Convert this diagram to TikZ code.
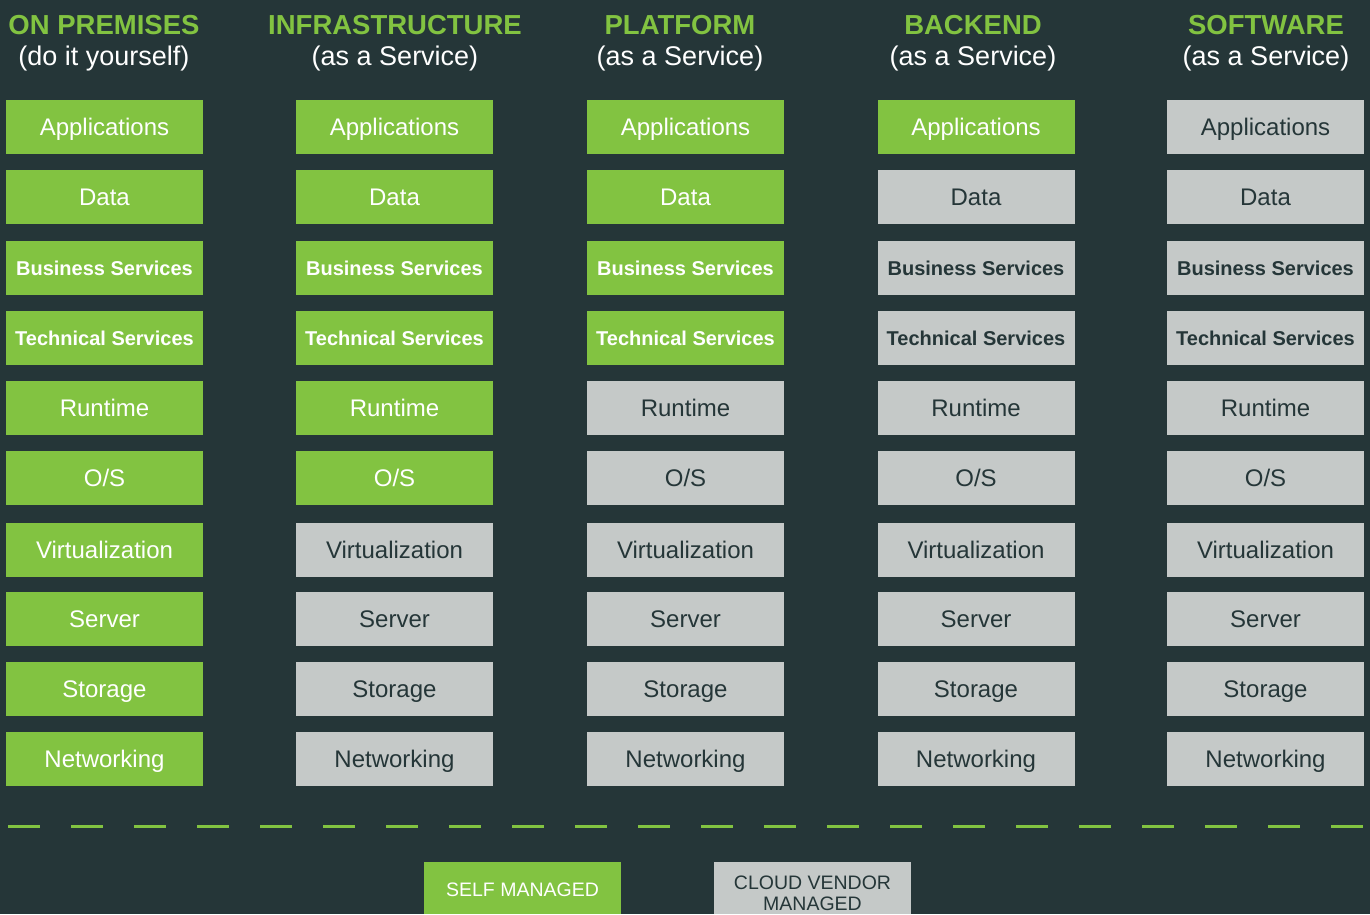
\documentclass[tikz,border=0pt]{standalone}
\usepackage{fontspec}
\setmainfont{Liberation Sans}
\definecolor{bg}{RGB}{37,54,56}
\definecolor{grn}{RGB}{130,195,65}
\definecolor{gry}{RGB}{197,201,200}
\begin{document}
\begin{tikzpicture}[x=1pt,y=-1pt,
  box/.style={minimum width=197pt,minimum height=54pt,inner sep=0pt,text depth=0pt},
  title/.style={font=\bfseries\fontsize{27.5}{32}\selectfont,text=grn,anchor=base,inner sep=0pt},
  sub/.style={font=\fontsize{27}{30}\selectfont,text=white,anchor=base,inner sep=0pt},
  legbox/.style={minimum width=197pt,minimum height=52pt,inner sep=0pt},
  legtext/.style={font=\fontsize{19.5}{21}\selectfont,anchor=base,inner sep=0pt}]
\fill[bg] (0,0) rectangle (1370,914);
\useasboundingbox (0,0) rectangle (1370,914);
% headers
\foreach \c/\x/\t/\s in {1/104/ON PREMISES/do it yourself,2/395/INFRASTRUCTURE/as a Service,3/680/PLATFORM/as a Service,4/973/BACKEND/as a Service,5/1266/SOFTWARE/as a Service}{
  \node[title] (h\c) at (\x,34) {\t};
  \node[sub] (s\c) at (\x,65) {(\s)};
}
% boxes
\foreach \c/\x/\n in {1/104.5/10,2/394.5/6,3/685.5/4,4/976/1,5/1265.5/0}{
  \foreach \r/\y/\lab/\k in {1/127/Applications/0,2/197/Data/0,3/268/Business Services/1,4/338/Technical Services/1,5/408/Runtime/0,6/478/O\slash S/0,7/550/Virtualization/0,8/619/Server/0,9/689/Storage/0,10/759/Networking/0}{
    \ifnum\r>\n \def\fc{gry}\def\tc{bg}\else\def\fc{grn}\def\tc{white}\fi
    \ifnum\k=1 \def\fnt{\bfseries\fontsize{20}{24}\selectfont}\def\th{14.3pt}\else\def\fnt{\fontsize{24}{28}\selectfont}\def\th{17.2pt}\fi
    \node[box,fill=\fc,text=\tc,font=\fnt,text height=\th] (c\c r\r) at (\x,\y) {\lab};
  }
}
% dashed separator
\coordinate (dl) at (8,826);
\coordinate (dr) at (1370,826);
\draw[grn,line width=3pt,dash pattern=on 32pt off 31pt] (dl) -- (dr);
% legend
\node[legbox,fill=grn] (lg1) at (522.5,888) {};
\node[legtext,text=white] (lg1t) at (522.5,896) {SELF MANAGED};
\node[legbox,fill=gry] (lg2) at (812.5,888) {};
\node[legtext,text=bg] (lg2t) at (812.5,889) {CLOUD VENDOR};
\node[legtext,text=bg] (lg2u) at (812.5,910) {MANAGED};
\end{tikzpicture}
\end{document}
